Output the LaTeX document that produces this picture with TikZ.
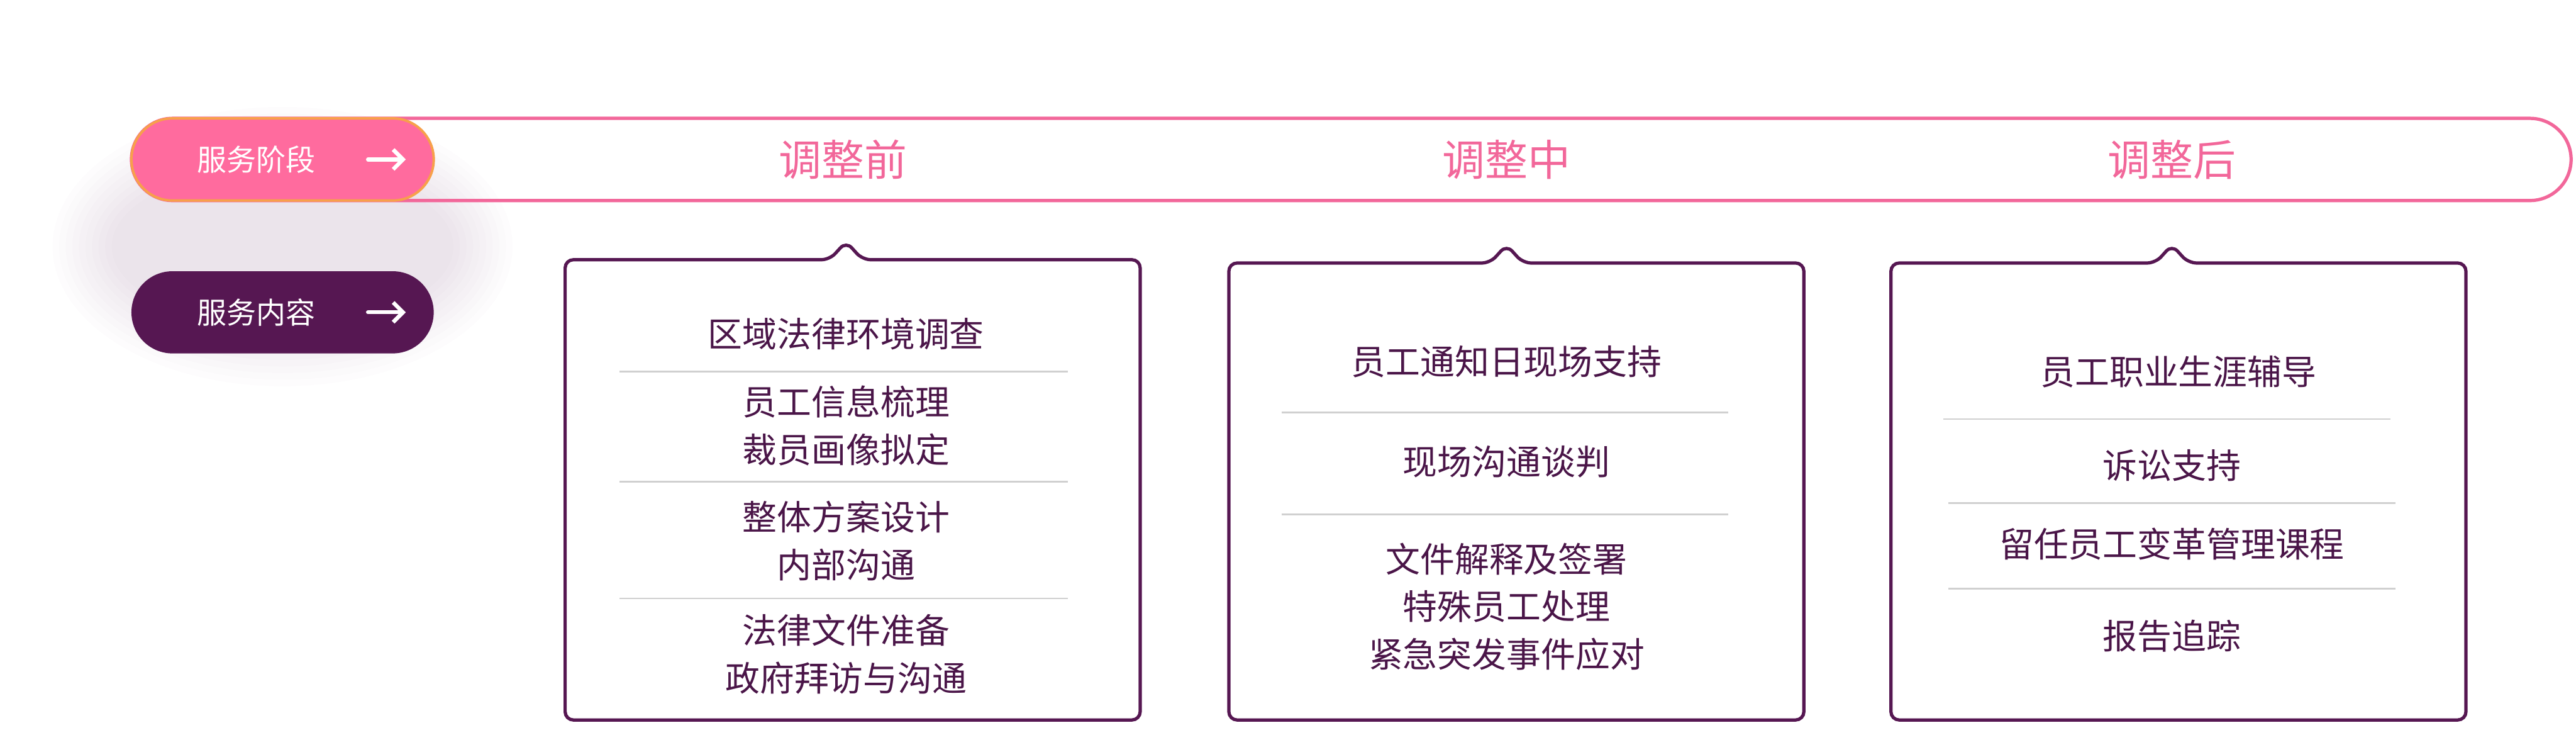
\documentclass[tikz,border=0pt]{standalone}
\usepackage{fontspec}
\setmainfont{Noto Sans CJK SC}
\usetikzlibrary{arrows.meta}
\definecolor{pinkc}{HTML}{F2679A}
\definecolor{pinkf}{HTML}{FF6B9E}
\definecolor{orng}{HTML}{F7A04B}
\definecolor{purp}{HTML}{561752}
\definecolor{txt}{HTML}{4A1548}
\definecolor{sep}{HTML}{D0D0D0}
\tikzset{
  stage/.style={text=pinkc,font=\fontsize{26}{30}\selectfont},
  item/.style={text=txt,font=\fontsize{21}{29}\selectfont,align=center},
  pilltxt/.style={text=white,font=\fontsize{18}{22}\selectfont},
  boxline/.style={draw=purp,line width=2pt,fill=white,rounded corners=5pt},
  sepl/.style={draw=sep,line width=1pt},
  parr/.style={draw=white,line width=2.4pt,-{Straight Barb[length=6pt,width=12pt]},line cap=round}
}
\begin{document}
\begin{tikzpicture}[x=1pt,y=-1pt]
\useasboundingbox (0,0) rectangle (1568,450);
% glow
\foreach \i in {1,...,10}{
  \fill[purp,opacity=0.012] (172,150) ellipse ({100+4*\i} and {45+4*\i});
}
% bar
\draw[pinkc,line width=2pt,rounded corners=25pt] (80,72) rectangle (1565,122);
\node[stage] (s1) at (513,97) {调整前};
\node[stage] (s2) at (917,97) {调整中};
\node[stage] (s3) at (1322,97) {调整后};
% pills
\draw[fill=pinkf,draw=orng,line width=1.5pt,rounded corners=25pt] (80,72) rectangle (264,122);
\node[pilltxt] (p1) at (156,97) {服务阶段};
\coordinate (a1s) at (224,97); \coordinate (a1e) at (247,97);
\draw[parr] (a1s) -- (a1e);
\fill[purp,rounded corners=25pt] (80,165) rectangle (264,215);
\node[pilltxt] (p2) at (156,190) {服务内容};
\coordinate (a2s) at (224,190); \coordinate (a2e) at (247,190);
\draw[parr] (a2s) -- (a2e);
% boxes
\draw[boxline] (344,158) -- (505,158) -- (515,147) -- (525,158) -- (694,158) -- (694,438) -- (344,438) -- cycle;
\draw[boxline] (748,160) -- (907,160) -- (917,149) -- (927,160) -- (1098,160) -- (1098,438) -- (748,438) -- cycle;
\draw[boxline] (1151,160) -- (1312,160) -- (1322,149) -- (1332,160) -- (1501,160) -- (1501,438) -- (1151,438) -- cycle;
% box1
\node[item] (b11) at (515,203) {区域法律环境调查};
\draw[sepl] (377,226) -- (650,226);
\node[item] (b12) at (515,259) {员工信息梳理\\裁员画像拟定};
\draw[sepl] (377,293) -- (650,293);
\node[item] (b13) at (515,329) {整体方案设计\\内部沟通};
\draw[sepl] (377,364) -- (650,364);
\node[item] (b14) at (515,398) {法律文件准备\\政府拜访与沟通};
% box2
\node[item] (b21) at (917,220) {员工通知日现场支持};
\draw[sepl] (780,251) -- (1052,251);
\node[item] (b22) at (917,281) {现场沟通谈判};
\draw[sepl] (780,313) -- (1052,313);
\node[item] (b23) at (917,369) {文件解释及签署\\特殊员工处理\\紧急突发事件应对};
% box3
\node[item] (b31) at (1326,226) {员工职业生涯辅导};
\draw[sepl] (1183,255) -- (1455,255);
\node[item] (b32) at (1322,283) {诉讼支持};
\draw[sepl] (1186,306) -- (1458,306);
\node[item] (b33) at (1322,331) {留任员工变革管理课程};
\draw[sepl] (1186,358) -- (1458,358);
\node[item] (b34) at (1322,387) {报告追踪};
\end{tikzpicture}
\end{document}
